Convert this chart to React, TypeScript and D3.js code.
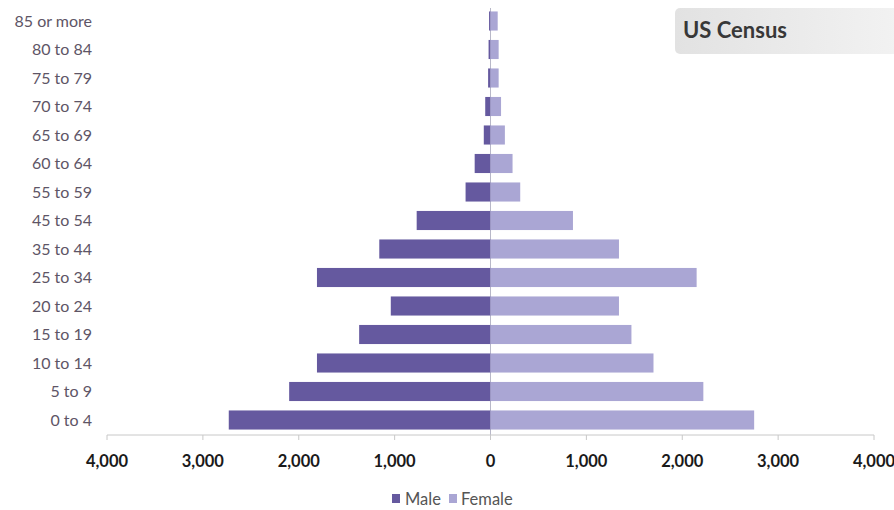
import React from "react";
import * as d3 from "d3";

const categories = ["85 or more","80 to 84","75 to 79","70 to 74","65 to 69","60 to 64","55 to 59","45 to 54","35 to 44","25 to 34","20 to 24","15 to 19","10 to 14","5 to 9","0 to 4"];
const male = [15, 20, 25, 55, 70, 165, 260, 770, 1160, 1810, 1040, 1370, 1810, 2100, 2730];
const female = [75, 85, 85, 110, 150, 230, 310, 860, 1340, 2150, 1340, 1470, 1700, 2220, 2750];
const ticks = [-4000, -3000, -2000, -1000, 0, 1000, 2000, 3000, 4000];
const seriesNames = ["Male", "Female"];
const colors = ["#65599f", "#aaa6d4"];

export default function App() {
  const W = 894, H = 510;
  const x = d3.scaleLinear().domain([-4000, 4000]).range([107, 874]);
  const y = d3.scaleBand().domain(categories).range([6.75, 434.25]).paddingInner(0.33).paddingOuter(0.165);
  const fmt = d3.format(",");
  const font = "Lato, 'Open Sans', sans-serif";
  const axisY = 435;
  return (
    <svg width={W} height={H} style={{ position: "absolute", left: 0, top: 0, background: "#fff" }} fontFamily={font}>
      <defs>
        <linearGradient id="tg" x1="0" x2="1" y1="0" y2="0">
          <stop offset="0" stopColor="#e2e2e2" />
          <stop offset="1" stopColor="#f2f2f2" />
        </linearGradient>
      </defs>
      <rect x={675} y={8} width={225} height={46} rx={5} fill="url(#tg)" />
      <text x={683} y={38} fontSize={22} fontWeight={700} fill="#383838">US Census</text>
      <line x1={x(0)} x2={x(0)} y1={8} y2={axisY} stroke="#b8b8c8" strokeWidth={1} />
      {categories.map((c, i) => (
        <g key={c}>
          <rect x={x(-male[i])} y={y(c)} width={x(0) - x(-male[i])} height={y.bandwidth()} fill={colors[0]} />
          <rect x={x(0)} y={y(c)} width={x(female[i]) - x(0)} height={y.bandwidth()} fill={colors[1]} />
          <text x={92} y={(y(c) as number) + y.bandwidth() / 2} dy="0.35em" textAnchor="end" fontSize={16} fill="#5e5566">{c}</text>
        </g>
      ))}
      <line x1={x(-4000)} x2={x(4000)} y1={axisY} y2={axisY} stroke="#c8c8c8" strokeWidth={1} />
      {ticks.map(t => (
        <g key={t}>
          <line x1={x(t)} x2={x(t)} y1={axisY} y2={axisY + 5} stroke="#c8c8c8" />
          <text x={x(t)} y={467} textAnchor="middle" fontSize={16.5} fontWeight={700} fill="#1a1a1a">{fmt(Math.abs(t))}</text>
        </g>
      ))}
      <g>
        <rect x={392} y={494} width={8} height={9} fill={colors[0]} />
        <text x={405} y={505} fontSize={16.5} fill="#555">{seriesNames[0]}</text>
        <rect x={449} y={494} width={8} height={9} fill={colors[1]} />
        <text x={461} y={505} fontSize={16.5} fill="#555">{seriesNames[1]}</text>
      </g>
    </svg>
  );
}
